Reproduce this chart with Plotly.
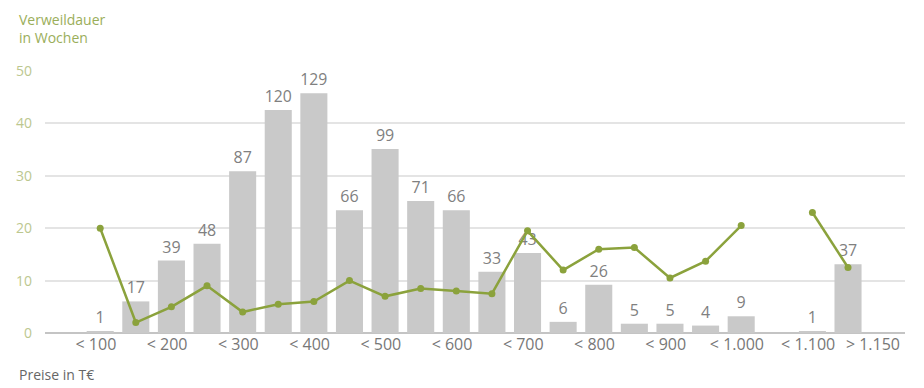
import plotly.graph_objects as go

categories = list(range(22))
tick_labels = ["< 100", "< 200", "< 300", "< 400", "< 500", "< 600", "< 700",
               "< 800", "< 900", "< 1.000", "< 1.100", "> 1.150"]
counts = [1, 17, 39, 48, 87, 120, 129, 66, 99, 71, 66, 33, 43, 6, 26, 5, 5, 4, 9, None, 1, 37]
weeks = [20, 2, 5, 9, 4, 5.5, 6, 10, 7, 8.5, 8, 7.5, 19.5, 12, 16, 16.3, 10.5, 13.7, 20.5, None, 23, 12.5]

tick_pos = [c - 0.12 for c in categories[0:21:2]] + [categories[-1] + 0.7]

FONT = "Open Sans"
fig = go.Figure()
fig.add_trace(go.Bar(
    x=categories, y=counts, yaxis="y",
    marker=dict(color="#c9c9c9", line=dict(width=0)), width=0.76,
    text=[("" if c is None else str(c)) for c in counts],
    textposition="outside", cliponaxis=False,
    textfont=dict(family=FONT, size=16, color="#808080"),
    hoverinfo="skip",
))
fig.add_trace(go.Scatter(
    x=categories, y=weeks, yaxis="y2", mode="lines+markers", connectgaps=False,
    line=dict(color="#8ba23c", width=2.5),
    marker=dict(color="#8ba23c", size=7),
    cliponaxis=False,
))
fig.update_layout(
    width=924, height=388, margin=dict(l=45, r=19, t=71, b=55),
    paper_bgcolor="white", plot_bgcolor="white", showlegend=False,
    uniformtext=dict(minsize=1),
    xaxis=dict(range=[-1.55, 22.6], tickmode="array", tickvals=tick_pos,
               ticktext=tick_labels, showgrid=False, zeroline=False,
               showline=False, ticks="",
               tickfont=dict(family=FONT, size=16, color="#777777")),
    yaxis=dict(range=[0, 141], showgrid=False, zeroline=False,
               showticklabels=False, ticks=""),
    yaxis2=dict(range=[0, 50], tickvals=[0, 10, 20, 30, 40, 50],
                overlaying="y", side="left",
                showgrid=True, gridcolor="#e4e4e4", gridwidth=2,
                zeroline=True, zerolinecolor="#c4c4c4", zerolinewidth=2,
                ticklabelstandoff=12, layer="below traces",
                tickfont=dict(family=FONT, size=14, color="#bcc78f")),
    annotations=[
        dict(text="Verweildauer<br>in Wochen", xref="paper", yref="paper",
             x=-45/860, y=1 + 71/262, xanchor="left", yanchor="top", align="left",
             xshift=17, yshift=-8, showarrow=False,
             font=dict(family=FONT, size=14, color="#9aae5a")),
        dict(text="Preise in T€", xref="paper", yref="paper",
             x=-45/860, y=-55/262, xanchor="left", yanchor="bottom",
             xshift=17, yshift=2, showarrow=False,
             font=dict(family=FONT, size=14, color="#666666")),
    ],
)
fig.write_html("out.html")
